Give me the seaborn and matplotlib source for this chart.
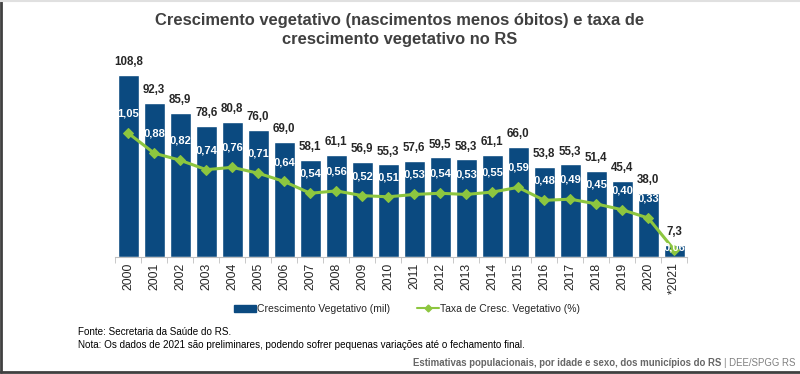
import matplotlib
matplotlib.use("Agg")
import matplotlib.pyplot as plt
import seaborn as sns
import pandas as pd
from matplotlib.lines import Line2D
from matplotlib.patches import Patch

anos = ["2000", "2001", "2002", "2003", "2004", "2005", "2006", "2007", "2008", "2009",
        "2010", "2011", "2012", "2013", "2014", "2015", "2016", "2017", "2018", "2019",
        "2020", "*2021"]
crescimento = [108.8, 92.3, 85.9, 78.6, 80.8, 76.0, 69.0, 58.1, 61.1, 56.9, 55.3,
               57.6, 59.5, 58.3, 61.1, 66.0, 53.8, 55.3, 51.4, 45.4, 38.0, 7.3]
taxa = [1.05, 0.88, 0.82, 0.74, 0.76, 0.71, 0.64, 0.54, 0.56, 0.52, 0.51,
        0.53, 0.54, 0.53, 0.55, 0.59, 0.48, 0.49, 0.45, 0.40, 0.33, 0.06]

AZUL = "#0b4a80"
VERDE = "#8dc63f"
TEXTO = "#262626"

sns.set_style("white")
plt.rcParams['font.family'] = ['Liberation Sans', 'DejaVu Sans']

df = pd.DataFrame({"ano": anos, "cresc": crescimento, "taxa": taxa})

fig = plt.figure(figsize=(8, 3.74), dpi=100)
ax = fig.add_axes([0.144, 0.313, 0.715, 0.553])

sns.barplot(data=df, x="ano", y="cresc", color=AZUL, saturation=1, width=0.8, ax=ax)
ax.set_xlim(-0.5, len(anos) - 0.5)
ax.set_ylim(0, 123.7)

for i, v in enumerate(crescimento):
    ax.annotate(f"{v:.1f}".replace(".", ","), (i, v), xytext=(0, 5), textcoords="offset points",
                ha="center", va="bottom", fontsize=8.3, fontweight="bold", color=TEXTO)

ax2 = ax.twinx()
sns.lineplot(x=list(range(len(anos))), y=taxa, color=VERDE, linewidth=2.2, marker="D",
             markersize=5.5, markeredgecolor=VERDE, ax=ax2)
ax2.set_ylim(0, 1.754)
for i, v in enumerate(taxa):
    last = i == len(taxa) - 1
    ax2.annotate(f"{v:.2f}".replace(".", ","), (i, v), xytext=(0, 1.5 if last else 14),
                 textcoords="offset points", ha="center", va="center",
                 fontsize=8.0, fontweight="bold", color="white")

for a in (ax, ax2):
    a.set_yticks([])
    a.set_ylabel("")
    for s in ("top", "left", "right"):
        a.spines[s].set_visible(False)
ax2.spines["bottom"].set_visible(False)
ax.spines["bottom"].set_color("#bfbfbf")
ax.set_xlabel("")
ax.tick_params(axis="x", which="major", length=0, pad=4, labelsize=8.8, labelcolor=TEXTO,
               rotation=90)
ax.set_xticks([i - 0.5 for i in range(len(anos) + 1)], minor=True)
ax.tick_params(axis="x", which="minor", length=4, color="#bfbfbf", bottom=True)

handles = [Patch(facecolor=AZUL, edgecolor=AZUL),
           Line2D([0], [0], color=VERDE, lw=1.5, marker="D", markersize=3.5)]
fig.legend(handles, ["Crescimento Vegetativo (mil)", "Taxa de Cresc. Vegetativo (%)"],
           loc="center", bbox_to_anchor=(0.509, 0.174), ncol=2, frameon=False, fontsize=7.5,
           handlelength=2.1, handleheight=0.6, columnspacing=2.6, handletextpad=0.1)

fig.text(0.5, 0.92, "Crescimento vegetativo (nascimentos menos óbitos) e taxa de\n"
         "crescimento vegetativo no RS", ha="center", va="center", fontsize=11.9,
         fontweight="bold", color="#404040", linespacing=1.3)

fig.text(0.098, 0.113, "Fonte: Secretaria da Saúde do RS.", fontsize=7.1, color="black", va="center")
fig.text(0.098, 0.078, "Nota: Os dados de 2021 são preliminares, podendo sofrer pequenas variações até o fechamento final.",
         fontsize=7.1, color="black", va="center")

t = fig.text(0.994, 0.03, "| DEE/SPGG RS", fontsize=6.9, color="#808080", ha="right", va="center")
fig.canvas.draw()
bb = t.get_window_extent()
x0 = bb.x0 / fig.bbox.width
fig.text(x0 - 0.003, 0.03, "Estimativas populacionais, por idade e sexo, dos municípios do RS",
         fontsize=6.9, color="#666666", ha="right", va="center", fontweight="bold")

fig.add_artist(Line2D([0.0015, 0.0015], [0.005, 1], color="#404040", lw=2, transform=fig.transFigure))
fig.add_artist(Line2D([0, 1], [0.006, 0.006], color="#404040", lw=2, transform=fig.transFigure))
fig.add_artist(Line2D([0, 1], [0.997, 0.997], color="#e0e0e0", lw=1.5, transform=fig.transFigure))

fig.savefig("out.png", dpi=100)
